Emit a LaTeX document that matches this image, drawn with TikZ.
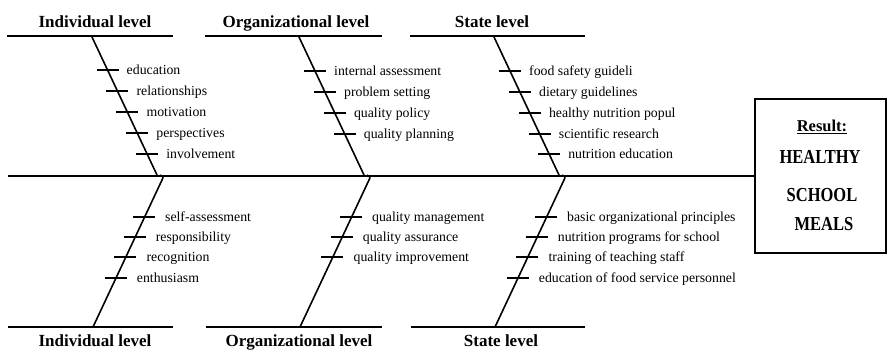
\documentclass[tikz,border=0pt]{standalone}
\usepackage{fontspec}
\setmainfont{Liberation Serif}
\usepackage{graphicx}
\tikzset{
  hline/.style={line width=2.2pt},
  bone/.style={line width=1.6pt},
  tickline/.style={line width=1.3pt},
  lbl/.style={anchor=base west, inner sep=0pt, font=\fontsize{13.8}{16}\selectfont},
  hdr/.style={anchor=base, inner sep=0pt, font=\fontsize{17}{20}\selectfont\bfseries},
  boxt/.style={anchor=base, inner sep=0pt, font=\fontsize{16.5}{20}\selectfont\bfseries},
}
\newcommand\toprib[4]{%
  \pgfmathsetmacro\bx{#1+(#2-37)*65/138}%
  \coordinate (ta#4) at (\bx-11,#2);
  \coordinate (tb#4) at (\bx+11,#2);
  \draw[tickline] (ta#4) -- (tb#4);
  \node[lbl] (lab#4) at (\bx+19,#2+4.5) {#3};
}
\newcommand\botrib[4]{%
  \pgfmathsetmacro\bx{#1+70-(#2-178)*69/149}%
  \coordinate (ta#4) at (\bx-11,#2);
  \coordinate (tb#4) at (\bx+11,#2);
  \draw[tickline] (ta#4) -- (tb#4);
  \node[lbl] (lab#4) at (\bx+21,#2+4.5) {#3};
}
\begin{document}
\begin{tikzpicture}[x=1pt,y=-1pt]
\useasboundingbox (0,0) rectangle (887,349);
% headers
\node[hdr] (hI) at (95,27) {Individual level};
\node[hdr] (hO) at (296,27) {Organizational level};
\node[hdr] (hS) at (492,27) {State level};
\node[hdr] (fI) at (95,346.5) {Individual level};
\node[hdr] (fO) at (299,346.5) {Organizational level};
\node[hdr] (fS) at (501,346.5) {State level};
% header lines
\coordinate (h1a) at (7,36);   \coordinate (h1b) at (173,36);
\coordinate (h2a) at (205,36); \coordinate (h2b) at (382,36);
\coordinate (h3a) at (410,36); \coordinate (h3b) at (585,36);
\coordinate (f1a) at (8,327);   \coordinate (f1b) at (173,327);
\coordinate (f2a) at (206,327); \coordinate (f2b) at (382,327);
\coordinate (f3a) at (411,327); \coordinate (f3b) at (585,327);
\draw[hline] (h1a) -- (h1b);
\draw[hline] (h2a) -- (h2b);
\draw[hline] (h3a) -- (h3b);
\draw[hline] (f1a) -- (f1b);
\draw[hline] (f2a) -- (f2b);
\draw[hline] (f3a) -- (f3b);
% result box
\node[draw, line width=2pt, minimum width=131pt, minimum height=154pt, inner sep=0pt] (box) at (820,175.5) {};
\node[boxt] (r1) at (822,131.5) {\underline{Result:}};
\node[boxt] (r2) at (820,163) {\scalebox{1}[1.2]{HEALTHY}};
\node[boxt] (r3) at (822,201) {\scalebox{1}[1.2]{SCHOOL}};
\node[boxt] (r4) at (824,230) {\scalebox{1}[1.2]{MEALS}};
% spine
\coordinate (sp) at (8,176);
\draw[hline, line width=2pt] (sp) -- (sp -| box.west);
% bones
\foreach \sx/\n in {92/I, 299/O, 494/S} {
  \coordinate (bt\n) at (\sx,37);
  \coordinate (bm\n) at (\sx+65,175);
  \coordinate (bh\n) at (\sx+70,180);
  \coordinate (bb\n) at (\sx+1,327);
  \draw[bone] (bt\n) -- (bm\n);
  \draw[bone] (bb\n) -- (bh\n) .. controls (\sx+71.5,177) .. (\sx+68,175);
}
% ribs
\foreach \y/\t [count=\i] in {70/education, 91/relationships, 112/motivation, 133/perspectives, 154/involvement}
  {\toprib{92}{\y}{\t}{TI\i}}
\foreach \y/\t [count=\i] in {71/internal assessment, 92/problem setting, 113/quality policy, 134/quality planning}
  {\toprib{299}{\y}{\t}{TO\i}}
\foreach \y/\t [count=\i] in {71/food safety guideli, 92/dietary guidelines, 113/healthy nutrition popul, 134/scientific research, 154/nutrition education}
  {\toprib{494}{\y}{\t}{TS\i}}
\foreach \y/\t [count=\i] in {217/self-assessment, 237/responsibility, 257/recognition, 278/enthusiasm}
  {\botrib{92}{\y}{\t}{BI\i}}
\foreach \y/\t [count=\i] in {217/quality management, 237/quality assurance, 257/quality improvement}
  {\botrib{299}{\y}{\t}{BO\i}}
\foreach \y/\t [count=\i] in {217/basic organizational principles, 237/nutrition programs for school, 257/training of teaching staff, 278/education of food service personnel}
  {\botrib{494}{\y}{\t}{BS\i}}
\end{tikzpicture}
\end{document}
